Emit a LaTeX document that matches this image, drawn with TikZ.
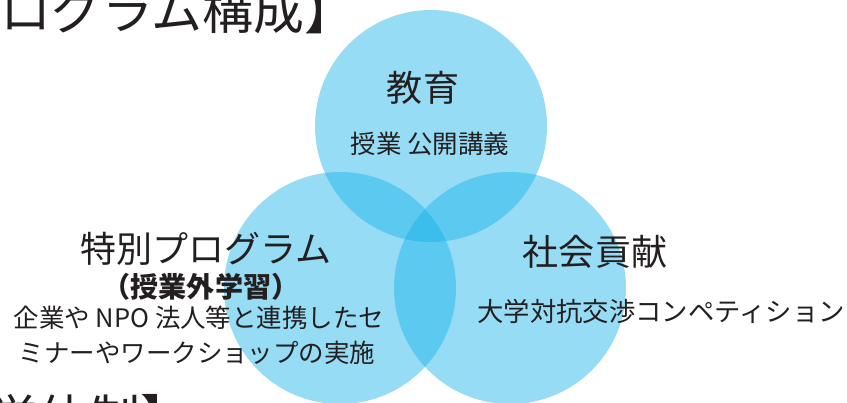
\documentclass[tikz,border=0pt]{standalone}
\usepackage{fontspec}
\setmainfont{Noto Sans CJK JP}
\definecolor{vennblue}{RGB}{22,177,233}
\definecolor{inkgray}{RGB}{35,31,32}
\tikzset{
  venn/.style={fill=vennblue, fill opacity=0.45},
  bigtxt/.style={text=inkgray, inner sep=0pt, font=\fontsize{29}{33}\selectfont},
  headtxt/.style={text=inkgray, inner sep=0pt, font=\fontsize{20.5}{24}\selectfont},
  subtxt/.style={text=inkgray, inner sep=0pt, font=\fontsize{14.5}{17}\selectfont}
}
\begin{document}
\begin{tikzpicture}[x=0.02cm,y=-0.02cm]
	  \clip (0,0) rectangle (847,402);
	  \useasboundingbox (0,0) rectangle (847,402);

	  % circles
	  \fill[venn] (431,126) circle (116);
	  \fill[venn] (340,288) circle (116);
	  \fill[venn] (510,288) circle (116);

	  % cut-off headings
	  \draw (0,30)node[bigtxt, anchor=base west](prog){ログラム構成】};
	  \draw (-13,437)node[bigtxt, anchor=base west](taisei){学体制】};

	  % top
	  \draw (423,88)node[headtxt](edu){教育};
	  \draw (430,144)node[subtxt](edudesc){授業 公開講義};

	  % left
	  \draw (206,249)node[headtxt](spec){特別プログラム};
	  \draw (201,287)node[subtxt, font=\fontsize{16}{19}\selectfont\bfseries](specsub){（授業外学習）};
	  \draw (199,318)node[subtxt](specdesc1){企業や NPO 法人等と連携したセ};
	  \draw (197,353)node[subtxt](specdesc2){ミナーやワークショップの実施};

	  % right
	  \draw (595,252)node[headtxt](soc){社会貢献};
	  \draw (477,311)node[subtxt, anchor=west, font=\fontsize{15}{18}\selectfont](socdesc){大学対抗交渉コンペティション};
\end{tikzpicture}
\end{document}
